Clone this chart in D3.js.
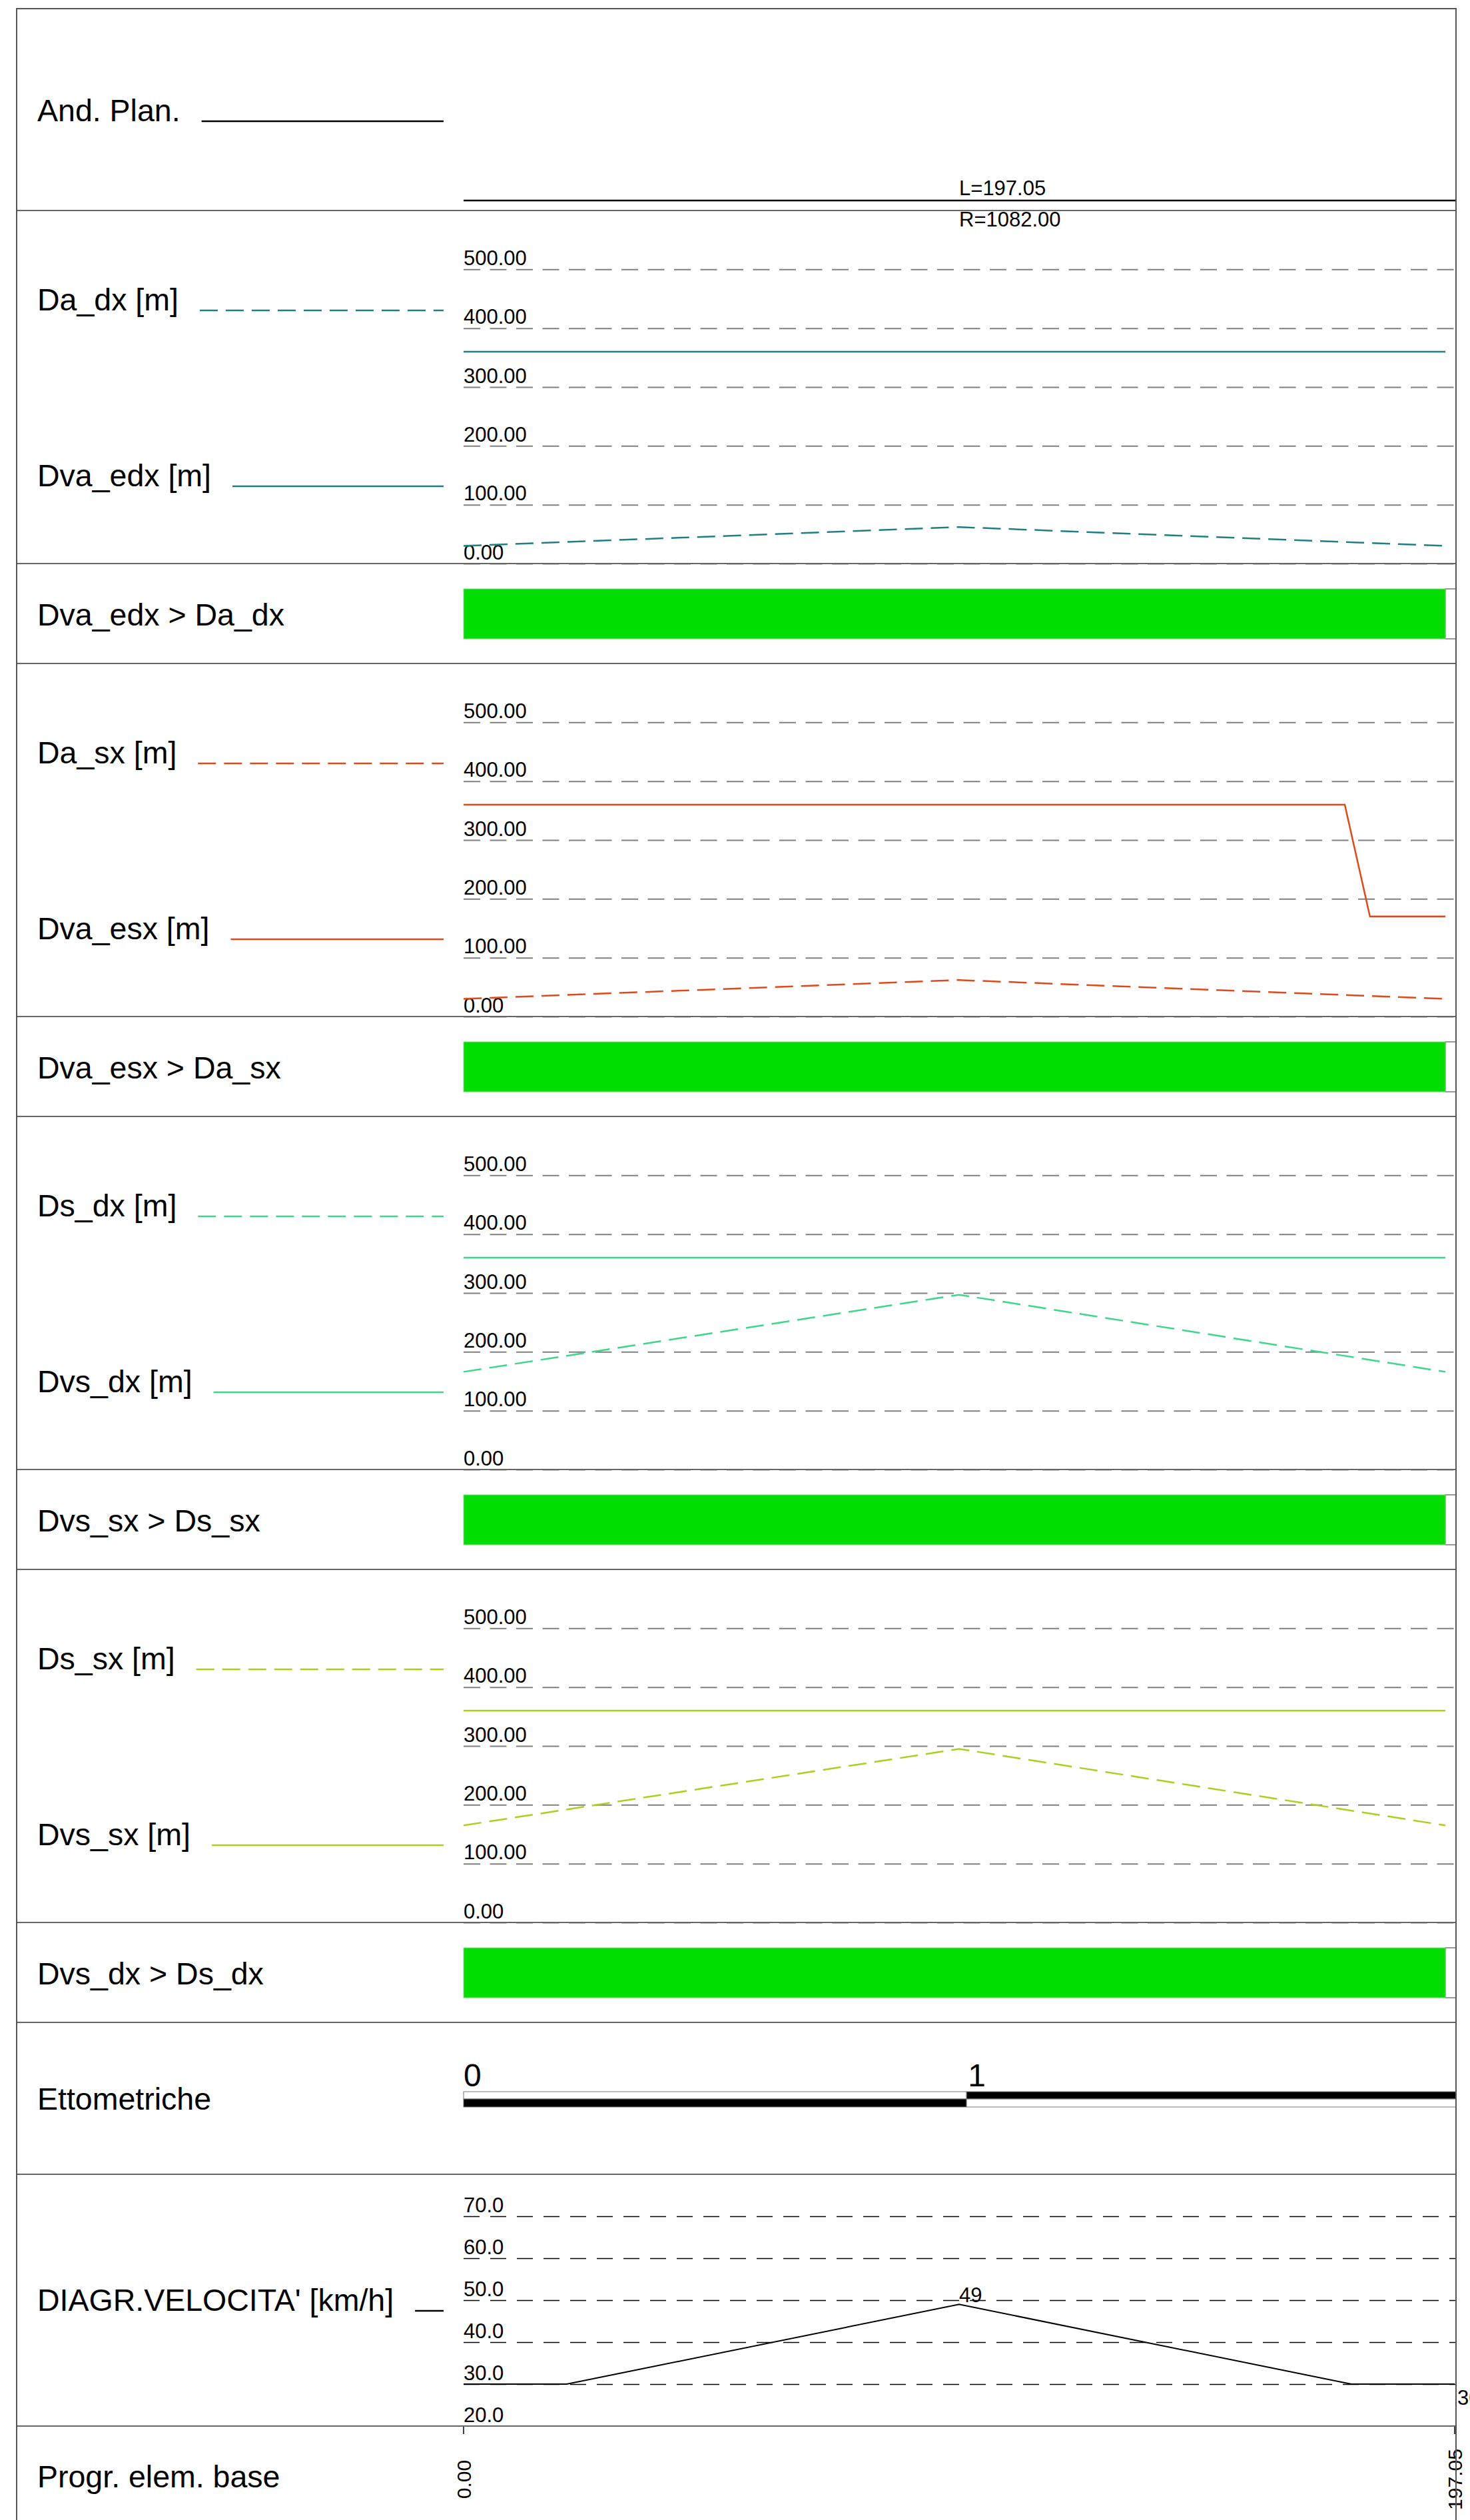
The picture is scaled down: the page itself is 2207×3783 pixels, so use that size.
<!DOCTYPE html>
<html lang="it">
<head>
<meta charset="UTF-8">
<title>Diagramma distanze di visibilità</title>
<script src="https://d3js.org/d3.v7.min.js"></script>
<style>
  body { margin: 0; background: #fff; }
  svg text { font-family: "Liberation Sans", Arial, sans-serif; fill: #000; }
  .frame { fill: none; stroke: #555; stroke-width: 2; }
  .divider { stroke: #666; stroke-width: 2; }
  .grid { stroke: #808080; stroke-width: 2; stroke-dasharray: 25 14.5; }
  .vgrid { stroke: #000; stroke-width: 1.3; stroke-dasharray: 24 16; }
  .label { font-size: 46.5px; }
  .tlabel { font-size: 31px; }
</style>
</head>
<body>
<svg width="2207" height="3783"></svg>
<script>
  // ---- data ----
  const progrLength = 197.05;
  const planMid = 98.53;
  const planLabels = ['L=197.05', 'R=1082.00'];

  const distTicks = [0, 100, 200, 300, 400, 500];
  const speedTicks = [20, 30, 40, 50, 60, 70];

  const curveStations = [0, 98.53, 195.2];
  const flatStations = [0, 195.2];
  const daDx = [30, 62, 30];
  const dvaEdx = [360, 360];
  const daSx = [30, 62, 30];
  const dvaEsxStations = [0, 175.2, 180.2, 195.2];
  const dvaEsx = [360, 360, 170, 170];
  const dsDx = [166, 297, 166];
  const dvsDx = [360, 360];
  const dsSx = [165, 295, 165];
  const dvsSx = [360, 360];

  const checkNames = ['Dva_edx > Da_dx', 'Dva_esx > Da_sx', 'Dvs_sx > Ds_sx', 'Dvs_dx > Ds_dx'];
  const checkOkEnd = 195.2;

  const hectoMarks = [0, 1];
  const speedStations = [0, 20.5, 98.53, 176.5, 197.05];
  const speed = [30, 30, 49, 30, 30];
  const progrTicks = [0, 197.05];

  // ---- layout ----
  const LEFT = 25, RIGHT = 2186, TOP = 13;
  const X0 = 696, X1 = 2184;
  const LABEL_X = 56, LEGEND_END = 666;
  const CHART_H = 530, BAR_H = 150;

  const svg = d3.select('svg');
  const x = d3.scaleLinear().domain([0, progrLength]).range([X0, X1]);

  const charts = [
    { a: 'Da_dx [m]', b: 'Dva_edx [m]', color: '#1f7f82', dashed: daDx, dashedX: curveStations, solid: dvaEdx, solidX: flatStations },
    { a: 'Da_sx [m]', b: 'Dva_esx [m]', color: '#de4a1b', dashed: daSx, dashedX: curveStations, solid: dvaEsx, solidX: dvaEsxStations },
    { a: 'Ds_dx [m]', b: 'Dvs_dx [m]', color: '#3ed68a', dashed: dsDx, dashedX: curveStations, solid: dvsDx, solidX: flatStations },
    { a: 'Ds_sx [m]', b: 'Dvs_sx [m]', color: '#a9cf1f', dashed: dsSx, dashedX: curveStations, solid: dvsSx, solidX: flatStations }
  ];

  // section tops
  let cursor = TOP;
  const planTop = cursor; cursor += 303;
  charts.forEach((c, i) => {
    c.top = cursor; cursor += CHART_H;
    c.barTop = cursor; c.check = checkNames[i]; cursor += BAR_H;
  });
  const ettoTop = cursor; cursor += 228;
  const speedTop = cursor; cursor += 378;
  const progrTop = cursor; cursor += 152;
  const bottom = cursor;

  const dividers = [planTop + 303];
  charts.forEach(c => { dividers.push(c.top + CHART_H, c.barTop + BAR_H); });
  dividers.push(ettoTop + 228, speedTop + 378);

  function label(text, y, lineStyle) {
    const t = svg.append('text').attr('class', 'label').attr('x', LABEL_X).attr('y', y).text(text);
    if (lineStyle) {
      const end = LABEL_X + t.node().getComputedTextLength();
      const l = svg.append('line')
        .attr('x1', end + 32).attr('x2', LEGEND_END)
        .attr('y1', y).attr('y2', y)
        .attr('stroke', lineStyle.color).attr('stroke-width', 2.5);
      if (lineStyle.dash) l.attr('stroke-dasharray', lineStyle.dash);
    }
  }

  // ---- plan ----
  label('And. Plan.', planTop + 169, { color: '#000' });
  svg.append('line')
    .attr('x1', x(0)).attr('x2', RIGHT)
    .attr('y1', planTop + 288).attr('y2', planTop + 288)
    .attr('stroke', '#000').attr('stroke-width', 2.5);
  svg.selectAll('.planlab').data(planLabels).enter().append('text')
    .attr('class', 'tlabel')
    .attr('x', x(planMid))
    .attr('y', (d, i) => i === 0 ? planTop + 280 : planTop + 327)
    .text(d => d);

  // ---- distance charts ----
  charts.forEach(c => {
    const y = d3.scaleLinear().domain([0, 600]).range([c.top + CHART_H, c.top]);

    svg.append('g')
      .attr('transform', `translate(${X0},0)`)
      .call(d3.axisRight(y).tickValues(distTicks).tickSize(RIGHT - X0).tickFormat(d3.format('.2f')))
      .call(g => g.select('.domain').remove())
      .call(g => g.selectAll('.tick line').attr('class', 'grid'))
      .call(g => g.selectAll('.tick text')
        .attr('class', 'tlabel').attr('x', 0).attr('dy', -7)
        .attr('text-anchor', 'start').attr('fill', '#000'));

    const line = xs => d3.line().x((d, i) => x(xs[i])).y(d => y(d));

    svg.append('path').datum(c.solid)
      .attr('d', line(c.solidX))
      .attr('fill', 'none').attr('stroke', c.color).attr('stroke-width', 2.5);
    svg.append('path').datum(c.dashed)
      .attr('d', line(c.dashedX))
      .attr('fill', 'none').attr('stroke', c.color).attr('stroke-width', 2.5)
      .attr('stroke-dasharray', '27 12');

    label(c.a, c.top + 150, { color: c.color, dash: '27 12' });
    label(c.b, c.top + 414, { color: c.color });

    // check bar
    label(c.check, c.barTop + 93);
    svg.append('rect')
      .attr('x', x(checkOkEnd)).attr('y', c.barTop + 38)
      .attr('width', RIGHT - x(checkOkEnd)).attr('height', 75)
      .attr('fill', '#fff').attr('stroke', '#777').attr('stroke-width', 1.5);
    svg.append('rect')
      .attr('x', x(0)).attr('y', c.barTop + 38)
      .attr('width', x(checkOkEnd) - x(0)).attr('height', 75)
      .attr('fill', '#00dd00').attr('stroke', '#8fd88f').attr('stroke-width', 1);
  });

  // ---- ettometriche ----
  label('Ettometriche', ettoTop + 131);
  const hectoEdges = hectoMarks.map(m => m * 100).concat([progrLength]);
  const segs = hectoMarks.map((m, i) => ({ i, s0: hectoEdges[i], s1: hectoEdges[i + 1] }));
  const barY = ettoTop + 104;
  segs.forEach(sg => {
    const x0 = x(sg.s0), x1 = sg.i === segs.length - 1 ? RIGHT : x(sg.s1);
    svg.append('rect').attr('x', x0).attr('y', barY).attr('width', x1 - x0).attr('height', 11)
      .attr('fill', sg.i % 2 ? '#000' : '#fff').attr('stroke', '#777').attr('stroke-width', 1);
    svg.append('rect').attr('x', x0).attr('y', barY + 11).attr('width', x1 - x0).attr('height', 12)
      .attr('fill', sg.i % 2 ? '#fff' : '#000').attr('stroke', '#777').attr('stroke-width', 1);
  });
  svg.selectAll('.hecto').data(hectoMarks).enter().append('text')
    .attr('x', d => x(d * 100) + (d ? 2 : 0))
    .attr('y', ettoTop + 96)
    .attr('font-size', 48)
    .text(d => d);

  // ---- speed diagram ----
  const ys = d3.scaleLinear().domain([20, 80]).range([speedTop + 378, speedTop]);
  svg.append('g')
    .attr('transform', `translate(${X0},0)`)
    .call(d3.axisRight(ys).tickValues(speedTicks).tickSize(RIGHT - X0).tickFormat(d3.format('.1f')))
    .call(g => g.select('.domain').remove())
    .call(g => g.selectAll('.tick line').attr('class', 'vgrid').attr('display', d => d === 20 ? 'none' : null))
    .call(g => g.selectAll('.tick text')
      .attr('class', 'tlabel').attr('x', 0).attr('dy', -7)
      .attr('text-anchor', 'start').attr('fill', '#000'));

  svg.append('path').datum(speed)
    .attr('d', d3.line().x((d, i) => x(speedStations[i])).y(d => ys(d)))
    .attr('fill', 'none').attr('stroke', '#000').attr('stroke-width', 2);

  const peakIdx = speed.indexOf(d3.max(speed));
  svg.append('text').attr('class', 'tlabel')
    .attr('x', x(speedStations[peakIdx])).attr('y', ys(speed[peakIdx]) - 3)
    .text(speed[peakIdx]);
  const lastIdx = speed.length - 1;
  svg.append('text').attr('class', 'tlabel')
    .attr('x', x(speedStations[lastIdx]) + 4).attr('y', ys(speed[lastIdx]) + 31)
    .text(speed[lastIdx]);

  label("DIAGR.VELOCITA' [km/h]", speedTop + 205, { color: '#000' });

  // ---- progressive ----
  label('Progr. elem. base', progrTop + 92);
  svg.selectAll('.ptick').data(progrTicks).enter().append('line')
    .attr('x1', d => x(d)).attr('x2', d => x(d))
    .attr('y1', progrTop).attr('y2', progrTop + 12)
    .attr('stroke', '#000').attr('stroke-width', 1.5);
  svg.selectAll('.plab').data(progrTicks).enter().append('text')
    .attr('font-size', 30)
    .attr('text-anchor', 'middle')
    .attr('transform', d => `translate(${x(d) + 11},${progrTop + 80}) rotate(-90)`)
    .text(d => d3.format('.2f')(d));

  // ---- frame and dividers ----
  svg.selectAll('.div').data(dividers).enter().append('line')
    .attr('class', 'divider')
    .attr('x1', LEFT).attr('x2', RIGHT)
    .attr('y1', d => d).attr('y2', d => d);
  svg.append('rect').attr('class', 'frame')
    .attr('x', LEFT).attr('y', TOP)
    .attr('width', RIGHT - LEFT).attr('height', bottom - TOP);
</script>
</body>
</html>
